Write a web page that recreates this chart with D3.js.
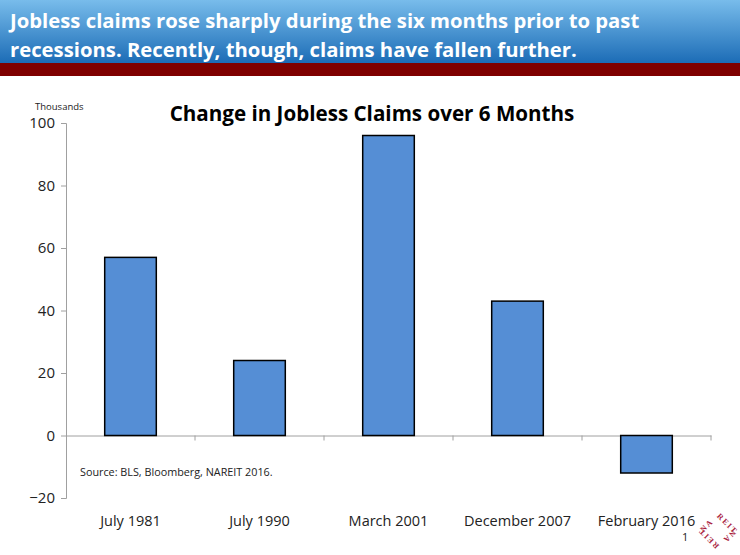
<!DOCTYPE html>
<html><head><meta charset="utf-8">
<script src="https://cdn.jsdelivr.net/npm/d3@7"></script>
<style>body{margin:0;background:#fff}svg{display:block}</style>
</head><body>
<script>
const categories = ["July 1981","July 1990","March 2001","December 2007","February 2016"];
const values = [57, 24, 96, 43, -12];
const yTicks = [-20, 0, 20, 40, 60, 80, 100];
const headerLines = ["Jobless claims rose sharply during the six months prior to past","recessions. Recently, though, claims have fallen further."];

const W = 740, H = 555;
const svg = d3.select("body").append("svg").attr("width", W).attr("height", H);
const defs = svg.append("defs");
const g = defs.append("linearGradient").attr("id","hdr").attr("x1",0).attr("y1",0).attr("x2",0).attr("y2",1);
g.append("stop").attr("offset","0%").attr("stop-color","#78bceb");
g.append("stop").attr("offset","100%").attr("stop-color","#1c6cb6");
svg.append("rect").attr("x",0).attr("y",0).attr("width",W).attr("height",63).attr("fill","url(#hdr)");
svg.append("rect").attr("x",0).attr("y",63).attr("width",W).attr("height",13).attr("fill","#7f0000");
svg.append("g").selectAll("text").data(headerLines).join("text")
  .attr("x",10).attr("y",(d,i)=>28+i*29)
  .attr("fill","#fff").attr("font-family","Open Sans").attr("font-weight","bold").attr("font-size",20.3)
  .text(d=>d);

const x = d3.scaleBand().domain(categories).range([66,711]).paddingInner(0.6).paddingOuter(0.3);
const y = d3.scaleLinear().domain([-20,100]).range([498,123]);

// y axis
const ya = svg.append("g").attr("transform","translate(66,0)")
  .call(d3.axisLeft(y).tickValues(yTicks).tickSize(5).tickPadding(6));
ya.select(".domain").attr("stroke","#a0a0a0");
ya.selectAll(".tick line").attr("stroke","#a0a0a0");
ya.selectAll(".tick text").attr("font-family","Open Sans").attr("font-size",15).attr("fill","#222");

// x axis at zero
const xa = svg.append("g").attr("transform",`translate(0,${y(0)})`)
  .call(d3.axisBottom(x).tickSize(0).tickFormat(""));
xa.select(".domain").attr("stroke","#a0a0a0");
const bounds = d3.range(categories.length+1).map(i=>66+i*(645/categories.length));
svg.append("g").selectAll("line").data(bounds.slice(1)).join("line")
  .attr("x1",d=>d).attr("x2",d=>d).attr("y1",y(0)).attr("y2",y(0)+5).attr("stroke","#a0a0a0");

// bars
svg.append("g").selectAll("rect").data(values).join("rect")
  .attr("x",(d,i)=>x(categories[i])).attr("width",x.bandwidth())
  .attr("y",d=>y(Math.max(0,d))).attr("height",d=>Math.abs(y(d)-y(0)))
  .attr("fill","#558ed5").attr("stroke","#000").attr("stroke-width",1.5);

// category labels
svg.append("g").selectAll("text").data(categories).join("text")
  .attr("x",d=>x(d)+x.bandwidth()/2).attr("y",526).attr("text-anchor","middle")
  .attr("font-family","Open Sans").attr("font-size",14.5).attr("fill","#222").text(d=>d);

svg.append("text").attr("x",372).attr("y",121).attr("text-anchor","middle")
  .attr("font-family","Open Sans").attr("font-weight","bold").attr("font-size",20.6).attr("fill","#000")
  .text("Change in Jobless Claims over 6 Months");
svg.append("text").attr("x",35).attr("y",110).attr("font-family","Open Sans").attr("font-size",9.5).attr("fill","#222").text("Thousands");
svg.append("text").attr("x",80).attr("y",476).attr("font-family","Open Sans").attr("font-size",10.8).attr("fill","#222").text("Source: BLS, Bloomberg, NAREIT 2016.");
svg.append("text").attr("x",682).attr("y",541).attr("font-family","Open Sans").attr("font-size",11).attr("fill","#222").text("1");

// logo
const logo = svg.append("g").attr("fill","#a8203c").attr("font-family","Liberation Serif")
  .attr("font-size",8).attr("font-weight","bold").attr("letter-spacing",1.5);
logo.append("text").attr("transform","translate(703.5,532.5) rotate(-45)").text("NA");
logo.append("text").attr("transform","translate(716.5,516.5) rotate(45)").text("REIT");
logo.append("text").attr("transform","translate(732.5,529.5) rotate(135)").text("NA");
logo.append("text").attr("transform","translate(719.5,545.5) rotate(225)").text("REIT");
</script>
</body></html>
